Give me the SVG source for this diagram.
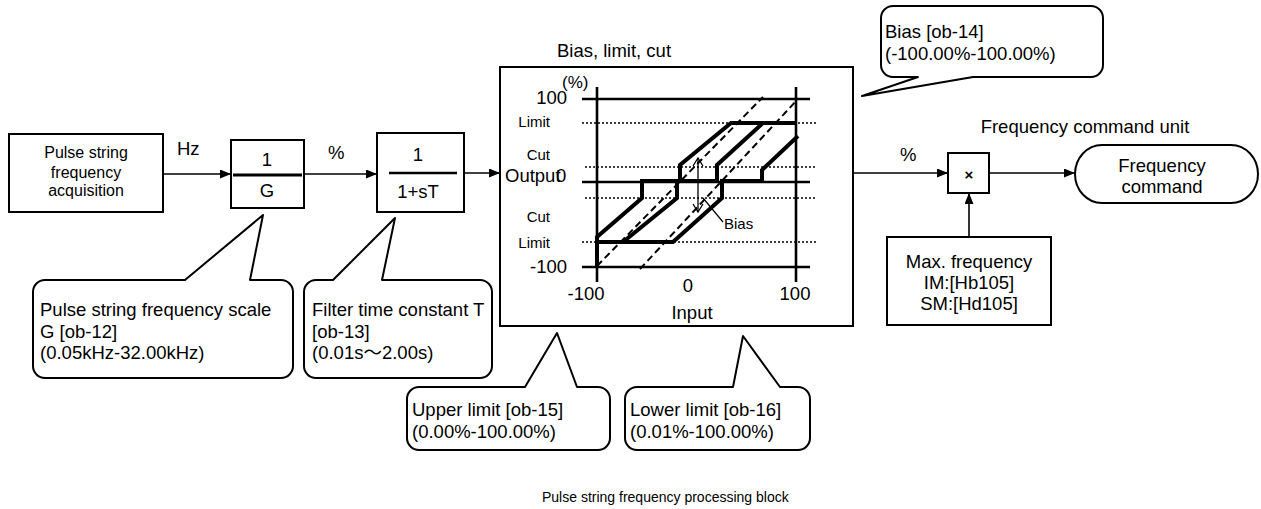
<svg xmlns="http://www.w3.org/2000/svg" width="1261" height="509" viewBox="0 0 1261 509">
<style>
text{font-family:"Liberation Sans",Arial,sans-serif;fill:#000}
.t{font-size:18.5px}
.s{font-size:16px}
.l{font-size:15px}
.c{font-size:14px}
.m{text-anchor:middle}
.e{text-anchor:end}
.box{fill:#fff;stroke:#000;stroke-width:2}
.co{fill:#fff;stroke:#000;stroke-width:2;stroke-linejoin:round}
.ln{stroke:#000;stroke-width:1.6;fill:none}
.ax{stroke:#000;stroke-width:2.6;fill:none}
.thk{stroke:#000;stroke-width:4;fill:none;stroke-linejoin:miter}
.dot{stroke:#000;stroke-width:1.6;stroke-dasharray:2 2;fill:none}
.dash{stroke:#000;stroke-width:2;stroke-dasharray:7 4;fill:none}
</style>
<defs>
<marker id="ah" markerUnits="userSpaceOnUse" markerWidth="11" markerHeight="9" refX="11" refY="4.5" orient="auto">
<path d="M0,0 L11,4.5 L0,9 z" fill="#000"/>
</marker>
<marker id="oa" markerUnits="userSpaceOnUse" markerWidth="10" markerHeight="12" refX="9" refY="6" orient="auto">
<path d="M1,1 L9,6 L1,11" fill="none" stroke="#000" stroke-width="1.3"/>
</marker>
</defs>
<rect width="1261" height="509" fill="#fff"/>

<g id="connectors">
<line class="ln" x1="163" y1="174" x2="231" y2="174" marker-end="url(#ah)"/>
<line class="ln" x1="304" y1="174" x2="377" y2="174" marker-end="url(#ah)"/>
<line class="ln" x1="464" y1="173" x2="500" y2="173" marker-end="url(#ah)"/>
<line class="ln" x1="853" y1="173" x2="948" y2="173" marker-end="url(#ah)"/>
<line class="ln" x1="989" y1="173" x2="1075" y2="173" marker-end="url(#ah)"/>
<line class="ln" x1="969" y1="237" x2="969" y2="193" marker-end="url(#ah)"/>
<text class="t" x="177" y="155">Hz</text>
<text class="t" x="328" y="159">%</text>
<text class="t" x="900" y="161">%</text>
</g>

<g id="acquisition">
<rect class="box" x="9" y="134" width="154" height="78"/>
<text class="s m" x="86" y="158">Pulse string</text>
<text class="s m" x="86" y="178">frequency</text>
<text class="s m" x="86" y="196">acquisition</text>
</g>

<g id="scale-G">
<rect class="box" x="231" y="140" width="73" height="68"/>
<line x1="233" y1="175" x2="302" y2="175" stroke="#000" stroke-width="3"/>
<text class="t m" x="267" y="166">1</text>
<text class="t m" x="267" y="197">G</text>
</g>

<g id="filter">
<rect class="box" x="377" y="133" width="87" height="79"/>
<line x1="389" y1="173" x2="457" y2="173" stroke="#000" stroke-width="2.6"/>
<text class="t m" x="418" y="161">1</text>
<text class="t m" x="418" y="198">1+sT</text>
</g>

<g id="bias-limit-cut">
<text class="t m" x="614" y="57">Bias, limit, cut</text>
<rect class="box" x="500" y="67" width="353" height="259"/>
<!-- grid lines -->
<line class="ax" x1="582" y1="99" x2="810" y2="99"/>
<line class="ax" x1="582" y1="182" x2="810" y2="182"/>
<line class="ax" x1="582" y1="267" x2="810" y2="267"/>
<line class="ax" x1="597" y1="87" x2="597" y2="282"/>
<line class="ax" x1="796" y1="87" x2="796" y2="282"/>
<line class="dot" x1="582" y1="123" x2="817" y2="123"/>
<line class="dot" x1="585" y1="167" x2="817" y2="167"/>
<line class="dot" x1="585" y1="198" x2="817" y2="198"/>
<line class="dot" x1="582" y1="242" x2="817" y2="242"/>
<!-- dashed reference lines -->
<line class="dash" x1="597" y1="266" x2="763" y2="97"/>
<line class="dash" x1="640" y1="269" x2="797" y2="100"/>
<!-- characteristic curves -->
<polyline class="thk" points="597,267 597,237 642,198 642,181 680,181 680,165 731,123 797,123"/>
<polyline class="thk" points="597,242 623,242 677,198 677,181 717,181 717,165 763,123"/>
<polyline class="thk" points="623,242 673,242 722,198 722,181 762,181 762,170 798,136"/>
<!-- bias arrow -->
<line x1="698" y1="185" x2="698" y2="158" stroke="#000" stroke-width="1.3" marker-end="url(#oa)"/>
<line x1="698" y1="185" x2="698" y2="212" stroke="#000" stroke-width="1.3" marker-end="url(#oa)"/>
<line x1="703" y1="198" x2="723" y2="222" stroke="#000" stroke-width="1.2"/>
<text class="l" x="724" y="229">Bias</text>
<!-- labels -->
<text class="t" x="562" y="88" style="font-size:17px">(%)</text>
<text class="t e" x="567" y="104">100</text>
<text class="l e" x="550" y="127">Limit</text>
<text class="l e" x="550" y="160">Cut</text>
<text class="t" x="505" y="182">Output</text>
<text class="t" x="556" y="182">0</text>
<text class="l e" x="550" y="222">Cut</text>
<text class="l e" x="550" y="248">Limit</text>
<text class="t e" x="567" y="273">-100</text>
<text class="t m" x="586" y="300">-100</text>
<text class="t m" x="688" y="292">0</text>
<text class="t m" x="795" y="300">100</text>
<text class="t m" x="692" y="319">Input</text>
</g>

<g id="multiplier">
<rect class="box" x="948" y="153" width="41" height="40"/>
<text class="m" x="969" y="180" style="font-size:15px;font-weight:bold">×</text>
</g>

<g id="freq-command">
<text class="t m" x="1085" y="133">Frequency command unit</text>
<rect class="box" x="1075" y="145" width="183" height="58" rx="27" ry="29"/>
<text class="t m" x="1162" y="172">Frequency</text>
<text class="t m" x="1162" y="193">command</text>
</g>

<g id="max-frequency">
<rect class="box" x="887" y="237" width="164" height="88"/>
<text class="t m" x="969" y="268">Max. frequency</text>
<text class="t m" x="969" y="289">IM:[Hb105]</text>
<text class="t m" x="969" y="310">SM:[Hd105]</text>
</g>

<g id="callout-bias">
<path class="co" d="M893,6 L1091,6 A12,12 0 0 1 1103,18 L1103,65 A12,12 0 0 1 1091,77 L973,77 L862,96 L918,77 L893,77 A12,12 0 0 1 881,65 L881,18 A12,12 0 0 1 893,6 Z"/>
<text class="t" x="885" y="38">Bias [ob-14]</text>
<text class="t" x="885" y="60">(-100.00%-100.00%)</text>
</g>

<g id="callout-scale">
<path class="co" d="M45,280 L185,280 L263,215 L250,280 L281,280 A12,12 0 0 1 293,292 L293,366 A12,12 0 0 1 281,378 L45,378 A12,12 0 0 1 33,366 L33,292 A12,12 0 0 1 45,280 Z"/>
<text class="t" x="40" y="316">Pulse string frequency scale</text>
<text class="t" x="40" y="338">G [ob-12]</text>
<text class="t" x="40" y="359">(0.05kHz-32.00kHz)</text>
</g>

<g id="callout-filter">
<path class="co" d="M316,280 L333,280 L395,218 L382,280 L480,280 A12,12 0 0 1 492,292 L492,366 A12,12 0 0 1 480,378 L316,378 A12,12 0 0 1 304,366 L304,292 A12,12 0 0 1 316,280 Z"/>
<text class="t" x="312" y="316">Filter time constant T</text>
<text class="t" x="312" y="338">[ob-13]</text>
<text class="t" x="312" y="359" style="font-family:'Liberation Sans','Noto Sans CJK JP',sans-serif">(0.01s～2.00s)</text>
</g>

<g id="callout-upper">
<path class="co" d="M419,387 L525,387 L557,333 L577,387 L598,387 A12,12 0 0 1 610,399 L610,438 A12,12 0 0 1 598,450 L419,450 A12,12 0 0 1 407,438 L407,399 A12,12 0 0 1 419,387 Z"/>
<text class="t" x="412" y="416">Upper limit [ob-15]</text>
<text class="t" x="412" y="438">(0.00%-100.00%)</text>
</g>

<g id="callout-lower">
<path class="co" d="M637,387 L733,387 L743,336 L780,387 L798,387 A12,12 0 0 1 810,399 L810,438 A12,12 0 0 1 798,450 L637,450 A12,12 0 0 1 625,438 L625,399 A12,12 0 0 1 637,387 Z"/>
<text class="t" x="630" y="416">Lower limit [ob-16]</text>
<text class="t" x="630" y="438">(0.01%-100.00%)</text>
</g>

<text class="c" x="542" y="502">Pulse string frequency processing block</text>
</svg>
